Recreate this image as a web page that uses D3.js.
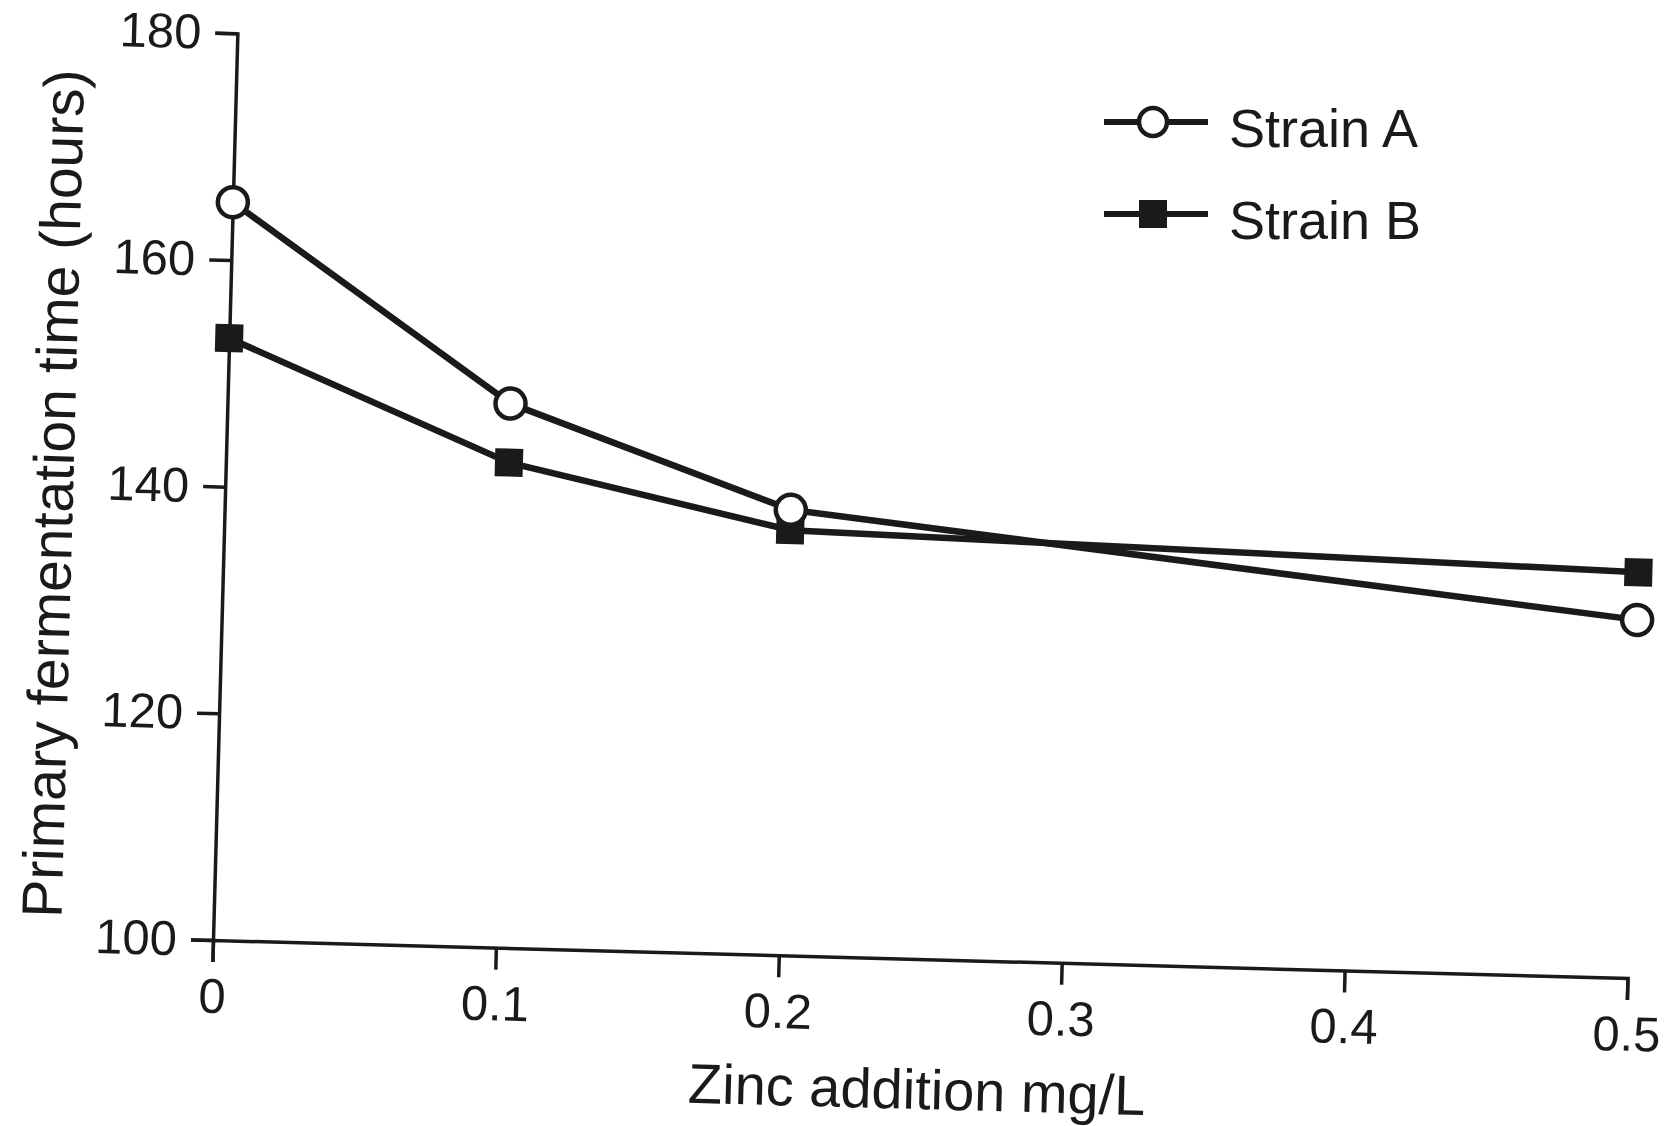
<!DOCTYPE html>
<html>
<head>
<meta charset="utf-8">
<script src="https://cdn.jsdelivr.net/npm/d3@7"></script>
<style>
  body { margin: 0; background: #fff; }
  svg { display: block; }
  .axis text { font-family: "Liberation Sans", Arial, sans-serif; fill: #1a1a1a; }
</style>
</head>
<body>
<div id="chart"></div>
<script>
const zinc = [0, 0.1, 0.2, 0.5];
const strainA = [165.1, 148.0, 139.3, 131.6];
const strainB = [153.1, 142.8, 137.5, 135.8];
const xTicks = [0, 0.1, 0.2, 0.3, 0.4, 0.5];
const xTickLabels = ["0", "0.1", "0.2", "0.3", "0.4", "0.5"];
const yTicks = [100, 120, 140, 160, 180];
const seriesNames = ["Strain A", "Strain B"];

const W = 1672, H = 1126;
const origin = { x: 213, y: 940 };
const tilt = 1.54; // the scan is turned slightly clockwise
const width = 1415, height = 907;
const ink = "#1a1a1a";
const font = "'Liberation Sans', Arial, sans-serif";

const svg = d3.select("#chart").append("svg")
  .attr("width", W)
  .attr("height", H);

const g = svg.append("g")
  .attr("transform", `translate(${origin.x},${origin.y}) rotate(${tilt}) translate(0,${-height})`);

const x = d3.scaleLinear().domain([0, 0.5]).range([0, width]);
const y = d3.scaleLinear().domain([100, 180]).range([height, 0]);

g.append("g")
  .attr("class", "axis")
  .attr("transform", `translate(0,${height})`)
  .call(d3.axisBottom(x)
    .tickValues(xTicks)
    .tickFormat((d, i) => xTickLabels[i])
    .tickSize(22)
    .tickPadding(16));

g.append("g")
  .attr("class", "axis")
  .call(d3.axisLeft(y)
    .tickValues(yTicks)
    .tickSize(22)
    .tickPadding(14));

g.selectAll(".axis path, .axis line")
  .attr("stroke", ink)
  .attr("stroke-width", 3.5);
g.selectAll(".axis text")
  .style("font-size", "49px");

g.append("text")
  .attr("x", width / 2)
  .attr("y", height + 150)
  .attr("text-anchor", "middle")
  .style("font-family", font)
  .style("font-size", "56px")
  .style("fill", ink)
  .text("Zinc addition mg/L");

g.append("text")
  .attr("transform", "rotate(-90)")
  .attr("x", -465)
  .attr("y", -152)
  .attr("text-anchor", "middle")
  .style("font-family", font)
  .style("font-size", "57px")
  .style("fill", ink)
  .text("Primary fermentation time (hours)");

const line = d3.line()
  .x((d, i) => x(zinc[i]))
  .y(d => y(d));

[strainB, strainA].forEach(vals => {
  g.append("path")
    .attr("d", line(vals))
    .attr("fill", "none")
    .attr("stroke", ink)
    .attr("stroke-width", 6.5)
    .attr("stroke-linejoin", "round");
});

g.selectAll(".pt-b")
  .data(strainB)
  .enter().append("rect")
  .attr("class", "pt-b")
  .attr("x", (d, i) => x(zinc[i]) - 14)
  .attr("y", d => y(d) - 14)
  .attr("width", 28)
  .attr("height", 28)
  .attr("fill", ink);

g.selectAll(".pt-a")
  .data(strainA)
  .enter().append("circle")
  .attr("class", "pt-a")
  .attr("cx", (d, i) => x(zinc[i]))
  .attr("cy", d => y(d))
  .attr("r", 15)
  .attr("fill", "#fff")
  .attr("stroke", ink)
  .attr("stroke-width", 4.5);

// legend
const legend = svg.append("g").attr("transform", "translate(1104,122)");
seriesNames.forEach((name, i) => {
  const item = legend.append("g").attr("transform", `translate(0,${i * 92})`);
  item.append("line")
    .attr("x1", 0).attr("x2", 104)
    .attr("stroke", ink)
    .attr("stroke-width", 6);
  if (i === 0) {
    item.append("circle")
      .attr("cx", 49).attr("r", 14)
      .attr("fill", "#fff")
      .attr("stroke", ink)
      .attr("stroke-width", 4.5);
  } else {
    item.append("rect")
      .attr("x", 35).attr("y", -14)
      .attr("width", 28).attr("height", 28)
      .attr("fill", ink);
  }
  item.append("text")
    .attr("x", 125)
    .attr("y", 25)
    .style("font-family", font)
    .style("font-size", "54px")
    .style("fill", ink)
    .text(name);
});
</script>
</body>
</html>
